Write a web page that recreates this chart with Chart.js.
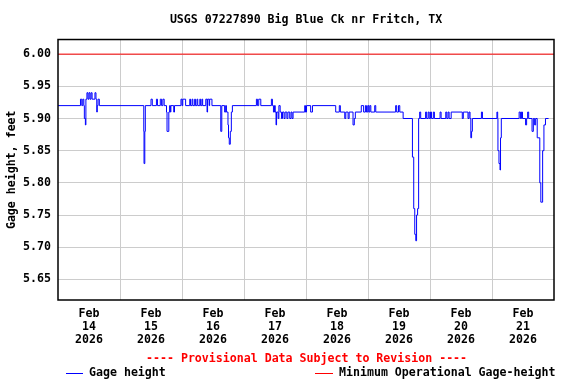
<!DOCTYPE html>
<html><head><meta charset="utf-8">
<style>html,body{margin:0;padding:0;background:#fff}#wrap{width:576px;height:384px}</style>
<script src="https://cdn.jsdelivr.net/npm/chart.js@4/dist/chart.umd.min.js"></script>
</head><body><div id="wrap"><canvas id="c" width="576" height="384"></canvas></div>
<script>
// Hours since Feb 14 2026 00:00 and gage height (feet) at each change
const gageHours = [0.0,8.7,9.2,9.6,10.0,10.2,10.6,10.8,11.2,11.6,12.0,12.4,12.8,13.2,14.3,14.7,15.0,15.2,15.5,16.0,
33.2,33.3,33.6,33.8,36.0,36.5,38.1,38.5,39.6,40.1,40.6,41.1,42.0,42.2,42.9,43.2,43.5,43.7,44.8,45.1,
47.6,48.0,48.3,49.4,51.0,51.3,51.9,52.2,52.9,53.2,53.8,54.1,54.9,55.2,55.7,56.0,57.2,57.7,57.9,58.5,58.7,59.6,
63.0,63.4,64.5,64.9,65.2,65.8,66.0,66.3,66.7,67.1,67.5,76.8,77.2,77.7,78.5,
82.6,83.0,83.4,83.8,84.1,84.4,84.6,85.2,85.5,86.0,86.5,86.9,87.5,87.9,88.6,89.0,89.7,90.2,90.6,91.0,
95.5,95.8,96.2,97.8,98.5,107.5,108.9,109.3,111.0,111.4,112.3,112.7,114.2,114.7,115.1,
117.4,118.3,119.0,119.4,119.9,120.3,120.7,121.1,122.6,123.0,130.7,131.1,131.8,132.3,133.6,
137.2,137.7,138.1,138.5,138.8,139.2,139.6,140.0,140.4,142.3,142.7,143.3,143.7,144.2,144.6,145.3,145.7,147.9,148.3,150.1,150.5,151.0,151.4,152.2,
156.5,156.9,158.7,159.1,159.5,159.8,160.1,160.4,163.9,164.3,
169.9,170.2,170.3,170.7,171.1,171.3,171.6,178.5,179.0,179.4,179.8,181.0,181.4,181.8,182.2,183.5,184.0,184.5,184.9,185.5,
186.5,186.9,187.6,188.1,188.7,189.9];
const gageFeet = [5.92,5.93,5.92,5.93,5.92,5.90,5.89,5.93,5.94,5.93,5.94,5.93,5.94,5.93,5.94,5.93,5.91,5.92,5.93,5.92,
5.88,5.83,5.88,5.92,5.93,5.92,5.93,5.92,5.93,5.92,5.93,5.92,5.91,5.88,5.91,5.92,5.91,5.92,5.91,5.92,
5.93,5.92,5.93,5.92,5.93,5.92,5.93,5.92,5.93,5.92,5.93,5.92,5.93,5.92,5.93,5.92,5.93,5.91,5.93,5.92,5.93,5.92,
5.88,5.92,5.91,5.92,5.91,5.89,5.87,5.86,5.88,5.91,5.92,5.93,5.92,5.93,5.92,
5.93,5.92,5.91,5.92,5.91,5.89,5.91,5.90,5.92,5.91,5.90,5.91,5.90,5.91,5.90,5.91,5.90,5.91,5.90,5.91,
5.92,5.91,5.92,5.91,5.92,5.91,5.92,5.91,5.90,5.91,5.90,5.91,5.89,5.90,5.91,
5.92,5.91,5.92,5.91,5.92,5.91,5.92,5.91,5.92,5.91,5.92,5.91,5.92,5.91,5.90,
5.84,5.76,5.72,5.71,5.75,5.76,5.90,5.91,5.90,5.91,5.90,5.91,5.90,5.91,5.90,5.91,5.90,5.91,5.90,5.91,5.90,5.91,5.90,5.91,
5.90,5.91,5.90,5.91,5.90,5.87,5.88,5.90,5.91,5.90,
5.91,5.90,5.85,5.83,5.82,5.87,5.90,5.91,5.90,5.91,5.90,5.89,5.90,5.91,5.90,5.88,5.90,5.89,5.90,5.87,
5.80,5.77,5.85,5.89,5.90,5.90];
const minOpHours = [0, 192];
const minOpFeet = [6.00, 6.00];
const dayNumbers = ['14','15','16','17','18','19','20','21'];
const monthLabel = 'Feb';
const yearLabel = '2026';
const xTickHours = [0,12,24,36,48,60,72,84,96,108,120,132,144,156,168,180,192];
const yTickValues = [5.65,5.70,5.75,5.80,5.85,5.90,5.95,6.00];

const FONT = "'DejaVu Sans Mono', 'Liberation Mono', monospace";
Chart.defaults.font.family = FONT;
Chart.defaults.font.size = 11.6;
Chart.defaults.font.weight = 'bold';
Chart.defaults.color = '#000';

const notes = {
  id: 'notes',
  afterDatasetsDraw(chart) {
    const {ctx, chartArea: a} = chart;
    ctx.save();
    ctx.strokeStyle = '#000';
    ctx.lineWidth = 1.5;
    ctx.strokeRect(a.left, a.top, a.right - a.left, a.bottom - a.top);
    ctx.restore();
  },
  afterDraw(chart) {
    const {ctx} = chart;
    ctx.save();
    ctx.font = 'bold 11.6px ' + FONT;
    ctx.textBaseline = 'middle';
    ctx.fillStyle = '#ff0000';
    ctx.textAlign = 'left';
    ctx.fillText('---- Provisional Data Subject to Revision ----', 146, 359);
    ctx.lineWidth = 1;
    ctx.strokeStyle = '#0000ff';
    ctx.beginPath(); ctx.moveTo(66, 373.5); ctx.lineTo(83, 373.5); ctx.stroke();
    ctx.fillStyle = '#000';
    ctx.fillText('Gage height', 89, 373);
    ctx.strokeStyle = '#ff0000';
    ctx.beginPath(); ctx.moveTo(315, 373.5); ctx.lineTo(333, 373.5); ctx.stroke();
    ctx.fillText('Minimum Operational Gage-height', 339, 373);
    ctx.restore();
  }
};

new Chart(document.getElementById('c'), {
  type: 'line',
  data: {
    datasets: [
      {
        label: 'Gage height',
        data: gageHours.map((h, i) => ({x: h, y: gageFeet[i]})),
        borderColor: '#0000ff',
        borderWidth: 1,
        pointRadius: 0,
        stepped: true,
        fill: false
      },
      {
        label: 'Minimum Operational Gage-height',
        data: minOpHours.map((h, i) => ({x: h, y: minOpFeet[i]})),
        borderColor: '#ff0000',
        borderWidth: 1,
        pointRadius: 0,
        fill: false
      }
    ]
  },
  options: {
    responsive: false,
    animation: false,
    devicePixelRatio: 1,
    layout: {padding: {left: 0, right: 22, top: 0, bottom: 0}},
    plugins: {
      legend: {display: false},
      tooltip: {enabled: false},
      title: {
        display: true,
        text: 'USGS 07227890 Big Blue Ck nr Fritch, TX',
        fullSize: false,
        color: '#000',
        font: {size: 11.6, weight: 'bold', family: FONT, lineHeight: 1.2},
        padding: {top: 13.3, bottom: 12.3}
      }
    },
    scales: {
      x: {
        type: 'linear',
        min: 0,
        max: 192,
        afterBuildTicks: s => { s.ticks = xTickHours.map(v => ({value: v})); },
        afterFit: s => { s.height = 84; },
        grid: {
          drawTicks: false,
          color: c => (c.tick && c.tick.value % 24 === 0 && c.tick.value > 0 && c.tick.value < 192) ? '#cccccc' : 'rgba(0,0,0,0)',
          lineWidth: 1
        },
        border: {display: false},
        ticks: {
          autoSkip: false,
          maxRotation: 0,
          padding: 7.5,
          font: {size: 11.6, weight: 'bold', family: FONT, lineHeight: 1.12},
          color: '#000',
          callback: v => (v % 24 === 12) ? [monthLabel, dayNumbers[Math.floor(v / 24)], yearLabel] : ''
        }
      },
      y: {
        type: 'linear',
        min: 5.618,
        max: 6.0227,
        afterBuildTicks: s => { s.ticks = yTickValues.map(v => ({value: v})); },
        afterFit: s => { s.width = 58; },
        grid: {drawTicks: false, color: '#cccccc', lineWidth: 1},
        border: {display: false},
        ticks: {
          padding: 7,
          color: '#000',
          callback: v => Number(v).toFixed(2)
        },
        title: {
          display: true,
          text: 'Gage height, feet',
          color: '#000',
          font: {size: 11.6, weight: 'bold', family: FONT, lineHeight: 1.2},
          padding: {top: 5, bottom: 0}
        }
      }
    }
  },
  plugins: [notes]
});
</script>
</body></html>
